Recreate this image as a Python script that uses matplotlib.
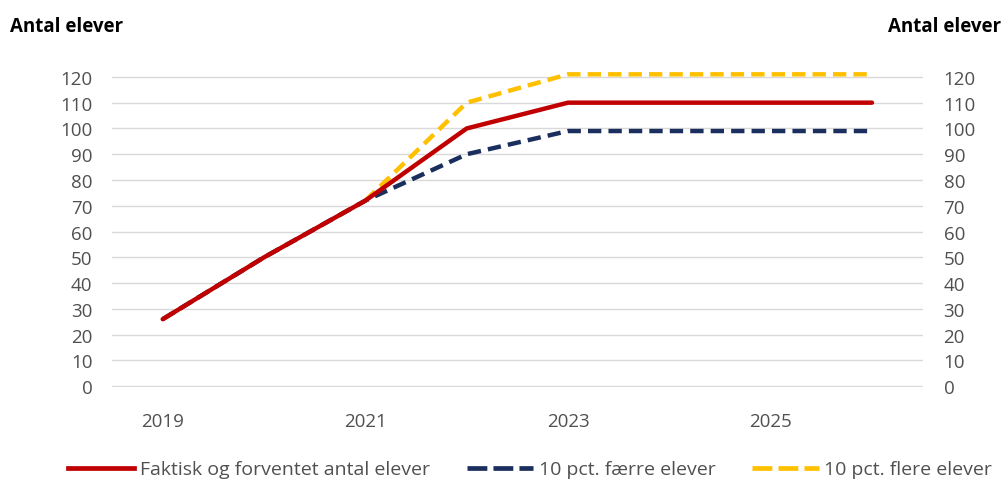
import matplotlib.pyplot as plt
from matplotlib.lines import Line2D

plt.rcParams['font.family'] = ['Open Sans', 'DejaVu Sans']

years = [2019, 2020, 2021, 2022, 2023, 2024, 2025, 2026]
actual = [26, 50, 72, 100, 110, 110, 110, 110]
fewer = [26, 50, 72, 90, 99, 99, 99, 99]
more_years = [2021, 2022, 2023, 2024, 2025, 2026]
more = [72, 110, 121, 121, 121, 121]

labels = ['Faktisk og forventet antal elever', '10 pct. færre elever', '10 pct. flere elever']
RED = '#C00000'
NAVY = '#1B2F5E'
YELLOW = '#FFC000'
TXT = '#505050'
FS = 13.5

fig = plt.figure(figsize=(10.04, 4.85), dpi=100)
ax = fig.add_axes([0.1116, 0.2, 0.8074, 0.641])

ax.plot(years, fewer, color=NAVY, lw=3.2, dashes=(3, 1.6), clip_on=False, zorder=3)
ax.plot(more_years, more, color=YELLOW, lw=3.2, dashes=(3, 1.6), clip_on=False, zorder=3)
ax.plot(years, actual, color=RED, lw=3.2, solid_capstyle='round', clip_on=False, zorder=4)

ax.set_xlim(2018.5, 2026.5)
ax.set_ylim(-0.3, 120.3)
ax.set_yticks(range(0, 121, 10))
ax.set_xticks([2019, 2021, 2023, 2025])
ax.grid(axis='y', color='#D9D9D9', lw=1)
ax.set_axisbelow(True)
for s in ax.spines.values():
    s.set_visible(False)
ax.tick_params(length=0, labelsize=FS, labelcolor=TXT)
ax.tick_params(axis='y', pad=14)
ax.tick_params(axis='x', pad=18)

ax2 = ax.twinx()
ax2.set_ylim(-0.3, 120.3)
ax2.set_yticks(range(0, 121, 10))
for s in ax2.spines.values():
    s.set_visible(False)
ax2.tick_params(length=0, labelsize=FS, labelcolor=TXT, pad=15)

fig.text(0.01, 0.945, 'Antal elever', fontsize=13.5, fontweight='bold', va='center', ha='left')
fig.text(0.884, 0.945, 'Antal elever', fontsize=13.5, fontweight='bold', va='center', ha='left')

handles = [
    Line2D([], [], color=RED, lw=3.4),
    Line2D([], [], color=NAVY, lw=3.4, dashes=(4.2, 1.3)),
    Line2D([], [], color=YELLOW, lw=3.4, dashes=(4.2, 1.3)),
]
fig.legend(handles, labels, loc='center', bbox_to_anchor=(0.528, 0.03), ncol=3, frameon=False,
           fontsize=14, handlelength=3.4, handletextpad=0.3, columnspacing=1.9, labelcolor=TXT)

fig.savefig('out.png', dpi=100)
